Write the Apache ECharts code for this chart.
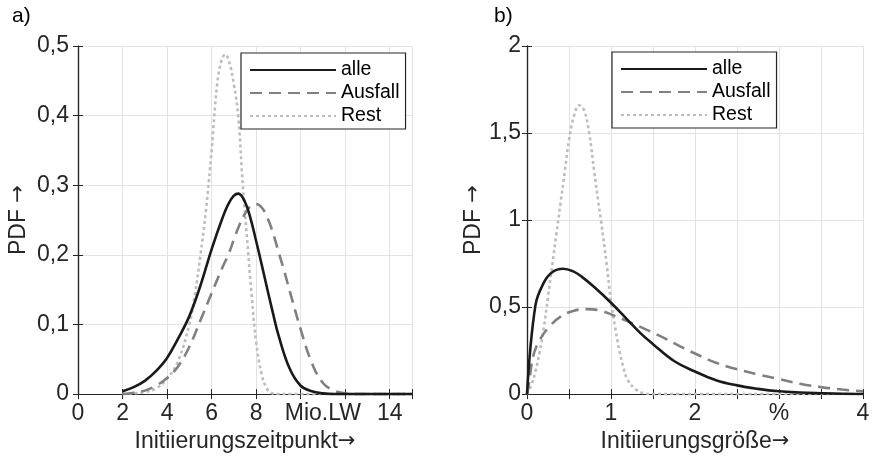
<!DOCTYPE html>
<html><head><meta charset="utf-8">
<script src="https://cdn.jsdelivr.net/npm/echarts@6/dist/echarts.min.js"></script>
<style>html,body{margin:0;padding:0;background:#fff}#c{width:873px;height:458px}</style>
</head><body><div id="c"></div>
<script>
// ---- data ----
const seriesNames = ['alle', 'Ausfall', 'Rest'];

// panel a) Initiierungszeitpunkt
const leftAlle = [[2,0.004],[2.5,0.01],[3,0.019],[3.5,0.033],[4,0.052],[4.5,0.08],[5,0.112],[5.5,0.156],[6,0.208],[6.5,0.254],[6.75,0.273],[7,0.285],[7.2,0.288],[7.5,0.276],[7.75,0.252],[8,0.22],[8.25,0.186],[8.5,0.151],[8.75,0.117],[9,0.085],[9.5,0.037],[10,0.012],[10.5,0.004],[11,0.001],[11.5,0],[15,0]];
const leftAusfall = [[2,0],[2.5,0.002],[3,0.005],[3.5,0.012],[4,0.023],[4.5,0.04],[5,0.068],[5.5,0.106],[6,0.145],[6.5,0.183],[6.75,0.2],[7,0.222],[7.25,0.243],[7.5,0.259],[7.75,0.27],[8,0.273],[8.25,0.268],[8.5,0.254],[8.75,0.232],[9,0.205],[9.25,0.178],[9.5,0.149],[10,0.093],[10.5,0.045],[11,0.016],[11.5,0.005],[12,0.001],[12.5,0],[15,0]];
const leftRest = [[2,0],[2.5,0.001],[3,0.003],[3.5,0.008],[4,0.022],[4.5,0.048],[5,0.1],[5.25,0.143],[5.5,0.2],[5.75,0.265],[6,0.35],[6.25,0.445],[6.45,0.48],[6.62,0.488],[6.8,0.476],[7,0.445],[7.2,0.398],[7.4,0.3],[7.6,0.22],[7.8,0.142],[8,0.075],[8.25,0.028],[8.5,0.007],[8.75,0.001],[9,0],[15,0]];

// panel b) Initiierungsgröße
const rightAlle = [[0,0],[0.1,0.51],[0.2,0.64],[0.3,0.7],[0.43,0.72],[0.55,0.705],[0.65,0.675],[0.8,0.615],[1.0,0.525],[1.2,0.425],[1.35,0.35],[1.5,0.287],[1.75,0.19],[2,0.13],[2.25,0.08],[2.5,0.05],[2.75,0.03],[3,0.016],[3.25,0.009],[3.5,0.005],[3.75,0.002],[4,0.001]];
const rightAusfall = [[0,0],[0.02,0.05],[0.075,0.22],[0.15,0.31],[0.27,0.39],[0.4,0.445],[0.55,0.478],[0.7,0.488],[0.85,0.483],[1.0,0.458],[1.2,0.418],[1.4,0.375],[1.6,0.33],[1.8,0.28],[2.0,0.233],[2.25,0.18],[2.5,0.143],[2.75,0.113],[3.0,0.086],[3.25,0.06],[3.5,0.04],[3.75,0.026],[4,0.016]];
const rightRest = [[0,0],[0.05,0.05],[0.1,0.13],[0.15,0.24],[0.2,0.38],[0.25,0.56],[0.3,0.74],[0.35,0.92],[0.4,1.1],[0.45,1.28],[0.5,1.46],[0.55,1.58],[0.62,1.66],[0.68,1.63],[0.74,1.5],[0.8,1.28],[0.85,1.1],[0.88,1.0],[0.95,0.74],[1.0,0.53],[1.05,0.38],[1.1,0.25],[1.15,0.15],[1.2,0.08],[1.3,0.025],[1.4,0.004],[1.5,0],[4,0]];

// tick labels
const leftXLabels = {0:'0', 2:'2', 4:'4', 6:'6', 8:'8', 14:'14'};
const leftXUnit = {11:'Mio.LW'};
const rightXLabels = {0:'0', 1:'1', 2:'2', 3:'%', 4:'4'};
const panelLabels = ['a)', 'b)'];
const xNames = ['Initiierungszeitpunkt{a|\u2192}', 'Initiierungsgr\u00f6\u00dfe{a|\u2192}'];
const yName = 'PDF {a|\u2192}';

// ---- chart ----
const FONT = '"Liberation Sans", Arial, Helvetica, sans-serif';
const AX = '#262626';
const GRIDC = '#e3e3e3';
const TF = 23;
const arrowRich = { a: { fontFamily: '"DejaVu Sans", sans-serif', fontSize: 21, color: AX } };

function lbl(map) { return v => { const k = Math.round(v * 1000) / 1000; return map[k] !== undefined ? map[k] : ''; }; }
const comma = v => String(Math.round(v * 100) / 100).replace('.', ',');

function mainX(gi, max, interval, fmt, name) {
  return { gridIndex: gi, type: 'value', position: 'bottom', min: 0, max: max, interval: interval,
    axisLine: { show: true, lineStyle: { color: AX, width: 1.2 } },
    axisTick: { show: true, inside: true, length: 5, lineStyle: { color: AX } },
    axisLabel: { formatter: fmt, fontFamily: FONT, fontSize: TF, color: AX, margin: 8, hideOverlap: false },
    splitLine: { show: true, lineStyle: { color: GRIDC, width: 1 } },
    name: name, nameLocation: 'middle', nameGap: 33,
    nameTextStyle: { fontFamily: FONT, fontSize: TF, color: AX, rich: arrowRich } };
}
function mirrorX(gi, max, interval) {
  return { gridIndex: gi, type: 'value', position: 'top', min: 0, max: max, interval: interval,
    axisLine: { show: true, lineStyle: { color: AX, width: 1.2 } },
    axisTick: { show: true, inside: true, length: 5, lineStyle: { color: AX } },
    axisLabel: { show: false }, splitLine: { show: false } };
}
function mainY(gi, max, interval, margin, gap) {
  return { gridIndex: gi, type: 'value', position: 'left', min: 0, max: max, interval: interval,
    axisLine: { show: true, lineStyle: { color: AX, width: 1.2 } },
    axisTick: { show: true, inside: true, length: 5, lineStyle: { color: AX } },
    axisLabel: { formatter: comma, fontFamily: FONT, fontSize: TF, color: AX, margin: margin },
    splitLine: { show: true, lineStyle: { color: GRIDC, width: 1 } },
    name: yName, nameLocation: 'middle', nameGap: gap, nameRotate: 90,
    nameTextStyle: { fontFamily: FONT, fontSize: TF, color: AX, rich: arrowRich } };
}
function mirrorY(gi, max, interval) {
  return { gridIndex: gi, type: 'value', position: 'right', min: 0, max: max, interval: interval,
    axisLine: { show: true, lineStyle: { color: AX, width: 1.2 } },
    axisTick: { show: true, inside: true, length: 5, lineStyle: { color: AX } },
    axisLabel: { show: false }, splitLine: { show: false } };
}

const styles = {
  'alle':    { color: '#1a1a1a', width: 2.6, type: 'solid' },
  'Ausfall': { color: '#808080', width: 2.6, type: [12, 7] },
  'Rest':    { color: '#bdbdbd', width: 2.6, type: [3, 3] }
};
function mk(name, data, xi, yi) {
  const s = styles[name];
  return { name: name, type: 'line', data: data, xAxisIndex: xi, yAxisIndex: yi,
    showSymbol: false, symbol: 'none', smooth: 0.4, animation: false,
    lineStyle: { color: s.color, width: s.width, type: s.type }, itemStyle: { color: s.color },
    z: name === 'alle' ? 5 : (name === 'Ausfall' ? 4 : 3) };
}
function legend(left, top) {
  return { orient: 'vertical', left: left, top: top, padding: [6, 6, 2, 8],
    itemWidth: 86, itemHeight: 14, itemGap: 1, borderColor: AX, borderWidth: 1.2, borderRadius: 0,
    backgroundColor: '#fff', selectedMode: false, data: seriesNames,
    itemStyle: { color: 'rgba(0,0,0,0)', borderWidth: 0, opacity: 0 },
    textStyle: { fontFamily: FONT, fontSize: 19.5, lineHeight: 22, color: '#000' } };
}

const chart = echarts.init(document.getElementById('c'), null, { renderer: 'canvas' });
chart.setOption({
  animation: false,
  backgroundColor: '#fff',
  grid: [
    { left: 78, top: 46, width: 334, height: 350 },
    { left: 527, top: 46, width: 336, height: 349 }
  ],
  xAxis: [
    mainX(0, 15, 2, lbl(leftXLabels), xNames[0]),
    mirrorX(0, 15, 2),
    { gridIndex: 0, type: 'value', position: 'bottom', min: 0, max: 15, interval: 1,
      axisLine: { show: false }, axisTick: { show: false }, splitLine: { show: false },
      axisLabel: { formatter: lbl(leftXUnit), fontFamily: FONT, fontSize: TF, color: AX, margin: 8, hideOverlap: false } },
    mainX(1, 4, 0.5, lbl(rightXLabels), xNames[1]),
    mirrorX(1, 4, 0.5)
  ],
  yAxis: [
    mainY(0, 0.5, 0.1, 9, 48),
    mirrorY(0, 0.5, 0.1),
    mainY(1, 2, 0.5, 6, 38),
    mirrorY(1, 2, 0.5)
  ],
  legend: [legend(241, 53), legend(612, 52)],
  graphic: [
    { type: 'text', left: 12, top: 6, style: { text: panelLabels[0], font: '21px ' + FONT, fill: '#000' } },
    { type: 'text', left: 494, top: 6, style: { text: panelLabels[1], font: '21px ' + FONT, fill: '#000' } }
  ],
  series: [
    mk('Rest', leftRest, 0, 0),
    mk('Ausfall', leftAusfall, 0, 0),
    mk('alle', leftAlle, 0, 0),
    mk('Rest', rightRest, 3, 2),
    mk('Ausfall', rightAusfall, 3, 2),
    mk('alle', rightAlle, 3, 2)
  ]
});
</script>
</body></html>
